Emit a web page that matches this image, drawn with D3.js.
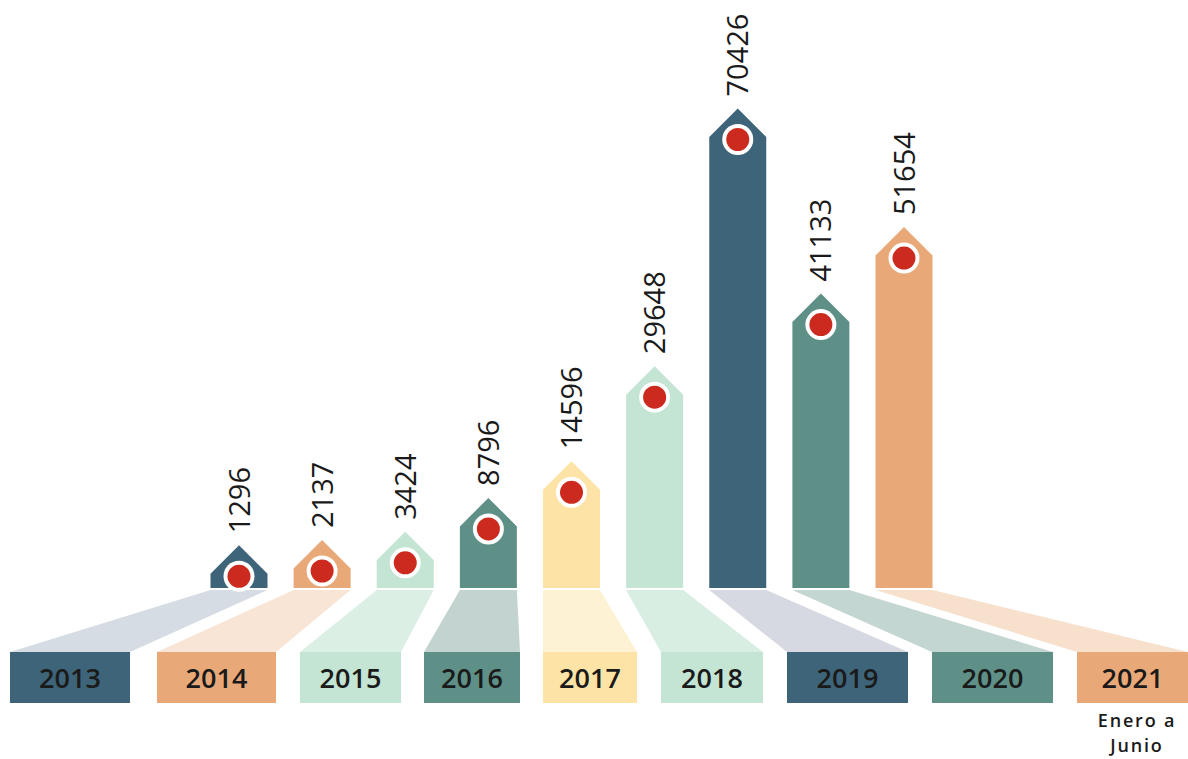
<!DOCTYPE html>
<html>
<head>
<meta charset="utf-8">
<script src="https://cdn.jsdelivr.net/npm/d3@7/dist/d3.min.js"></script>
<style>
  html, body { margin: 0; padding: 0; background: #ffffff; }
  svg { display: block; }
</style>
</head>
<body>
<svg id="chart" width="1188" height="759"></svg>
<script>
// ---- data ----
const years = ["2013", "2014", "2015", "2016", "2017", "2018", "2019", "2020", "2021"];
const values = [1296, 2137, 3424, 8796, 14596, 29648, 70426, 41133, 51654];
const subLabel = ["Enero a", "Junio"];

// ---- styles / layout (not data) ----
const barColors   = ["#3e6479", "#e9a878", "#c4e4d4", "#5e9087", "#fde4a6", "#c4e4d4", "#3e6479", "#5e9087", "#e9a878"];
const shadeColors = ["#d6dce3", "#f8e5d5", "#dcefe5", "#c2d3d0", "#fef2d5", "#d9eee3", "#d6d9e2", "#c4d6d1", "#f7e1cd"];
const boxExtents  = [[10,130],[157,276],[300,401],[424,520],[543,637],[661,763],[787,908],[932,1053],[1077,1188]];

const svg = d3.select("#chart");
const baseline = 588;
const barW = 57;
const roof = 28.5;
const boxTop = 652, boxBottom = 703;

const x = d3.scalePoint().domain(years).range([239, 904]);
const y = d3.scaleLinear().domain([0, d3.max(values)]).range([582, 137]);

const data = years.map((yr, i) => ({ yr, v: values[i], i }));

// shadows (trapezoids)
svg.append("g").selectAll("path").data(data).join("path")
  .attr("d", d => {
    const cx = x(d.yr), b = boxExtents[d.i];
    return `M${cx - barW/2},${baseline + 2} L${cx + barW/2},${baseline + 2} L${b[1]},${boxTop} L${b[0]},${boxTop} Z`;
  })
  .attr("fill", d => shadeColors[d.i]);

// bars with pointed roofs
svg.append("g").selectAll("path").data(data).join("path")
  .attr("d", d => {
    const cx = x(d.yr), top = y(d.v);
    const l = cx - barW/2, r = cx + barW/2;
    return `M${l},${baseline} L${l},${top} L${cx},${top - roof} L${r},${top} L${r},${baseline} Z`;
  })
  .attr("fill", d => barColors[d.i]);

// circles
const cg = svg.append("g");
cg.selectAll("circle.ring").data(data).join("circle")
  .attr("class", "ring")
  .attr("cx", d => x(d.yr)).attr("cy", d => y(d.v) + 2.5)
  .attr("r", 15.5).attr("fill", "#ffffff");
cg.selectAll("circle.dot").data(data).join("circle")
  .attr("class", "dot")
  .attr("cx", d => x(d.yr)).attr("cy", d => y(d.v) + 2.5)
  .attr("r", 11.5).attr("fill", "#cc2a1f");

// value labels (rotated)
svg.append("g").selectAll("text").data(data).join("text")
  .attr("transform", d => `translate(${x(d.yr) + 10.5},${y(d.v) - roof - 12}) rotate(-90)`)
  .attr("text-anchor", "start")
  .attr("font-family", "Open Sans, sans-serif")
  .attr("font-size", 29)
  .attr("font-weight", 500)
  .attr("fill", "#1a1a1a")
  .text(d => d.v);

// year boxes
svg.append("g").selectAll("rect").data(data).join("rect")
  .attr("x", d => boxExtents[d.i][0])
  .attr("y", boxTop)
  .attr("width", d => boxExtents[d.i][1] - boxExtents[d.i][0])
  .attr("height", boxBottom - boxTop)
  .attr("fill", d => barColors[d.i]);

svg.append("g").selectAll("text").data(data).join("text")
  .attr("x", d => (boxExtents[d.i][0] + boxExtents[d.i][1]) / 2)
  .attr("y", (boxTop + boxBottom) / 2 + 10)
  .attr("text-anchor", "middle")
  .attr("font-family", "Open Sans, sans-serif")
  .attr("font-size", 27)
  .attr("font-weight", 600)
  .attr("fill", "#1a1a1a")
  .text(d => d.yr);

// sub label under 2021
svg.append("g").selectAll("text").data(subLabel).join("text")
  .attr("x", 1137)
  .attr("y", (d, i) => 727 + i * 25)
  .attr("text-anchor", "middle")
  .attr("font-family", "Open Sans, sans-serif")
  .attr("font-size", 18)
  .attr("font-weight", 600)
  .attr("letter-spacing", 1.8)
  .attr("fill", "#1a1a1a")
  .text(d => d);
</script>
</body>
</html>
